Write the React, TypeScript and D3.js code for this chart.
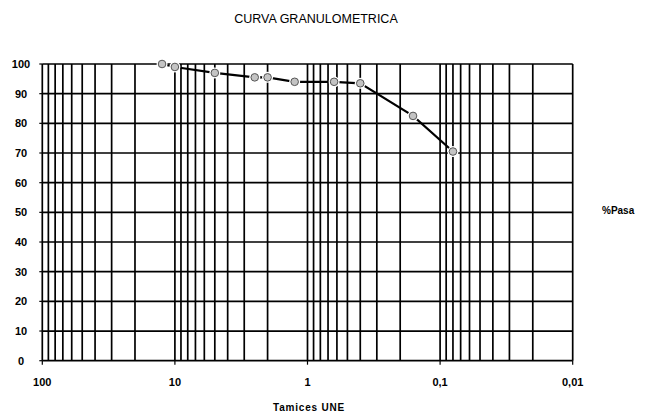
import React from "react";
import * as d3 from "d3";

// tamaños de tamiz (mm) y % que pasa
const sieveSizes = [12.5, 10, 5, 2.5, 2, 1.25, 0.63, 0.4, 0.16, 0.08];
const percentPassing = [100, 99, 97, 95.5, 95.5, 94, 94, 93.5, 82.5, 70.5];

const xTickValues = [100, 10, 1, 0.1, 0.01];
const xTickLabels = ["100", "10", "1", "0,1", "0,01"];
const yTickValues = [0, 10, 20, 30, 40, 50, 60, 70, 80, 90, 100];

const width = 656;
const height = 416;
const left = 42.3;
const right = 572.7;
const top = 64;
const bottom = 360.7;

export default function App() {
  const x = d3.scaleLog().domain([100, 0.01]).range([left, right]);
  const y = d3.scaleLinear().domain([0, 100]).range([bottom, top]);

  // lineas menores de la escala logaritmica
  const gridX: number[] = [];
  [0.01, 0.1, 1, 10].forEach(d => {
    for (let k = 1; k < 10; k++) gridX.push(k * d);
  });
  gridX.push(100);

  const points = sieveSizes.map((s, i) => [x(s), y(percentPassing[i])] as [number, number]);
  const line = d3.line();

  const font = "Arial, 'Liberation Sans', sans-serif";

  return (
    <svg
      width={width}
      height={height}
      style={{ position: "absolute", left: 0, top: 0, background: "#fff" }}
    >
      <text x={316} y={23} textAnchor="middle" fontFamily={font} fontSize={12.5} fill="#000">
        CURVA GRANULOMETRICA
      </text>

      {yTickValues.map(v => (
        <line key={"h" + v} x1={left} x2={right} y1={y(v)} y2={y(v)} stroke="#000" strokeWidth={1.7} />
      ))}
      {gridX.map(v => (
        <line key={"v" + v} x1={x(v)} x2={x(v)} y1={top} y2={bottom} stroke="#000" strokeWidth={1.7} />
      ))}

      {xTickValues.map(v => (
        <line key={"xt" + v} x1={x(v)} x2={x(v)} y1={bottom} y2={bottom + 4} stroke="#000" strokeWidth={1.2} />
      ))}
      {yTickValues.map(v => (
        <line key={"yt" + v} x1={left - 3} x2={left} y1={y(v)} y2={y(v)} stroke="#000" strokeWidth={1.2} />
      ))}

      {yTickValues.map(v => (
        <text
          key={"yl" + v}
          x={21}
          y={y(v)}
          dy="0.35em"
          textAnchor="middle"
          fontFamily={font}
          fontWeight="bold"
          fontSize={11}
          fill="#000"
        >
          {v}
        </text>
      ))}
      {xTickValues.map((v, i) => (
        <text
          key={"xl" + v}
          x={x(v)}
          y={386}
          textAnchor="middle"
          fontFamily={font}
          fontWeight="bold"
          fontSize={11}
          fill="#000"
        >
          {xTickLabels[i]}
        </text>
      ))}

      <text x={309} y={411} textAnchor="middle" fontFamily={font} fontWeight="bold" fontSize={10} letterSpacing={0.8} fill="#000">
        Tamices UNE
      </text>
      <text x={602} y={214} fontFamily={font} fontWeight="bold" fontSize={10} fill="#000">
        %Pasa
      </text>

      <path d={line(points) || ""} fill="none" stroke="#000" strokeWidth={2.2} />
      {points.map((p, i) => (
        <g key={"p" + i}>
          <circle cx={p[0]} cy={p[1]} r={5.5} fill="#fff" />
          <circle cx={p[0]} cy={p[1]} r={3.8} fill="#c4c4c4" stroke="#555" strokeWidth={1} />
        </g>
      ))}
    </svg>
  );
}
